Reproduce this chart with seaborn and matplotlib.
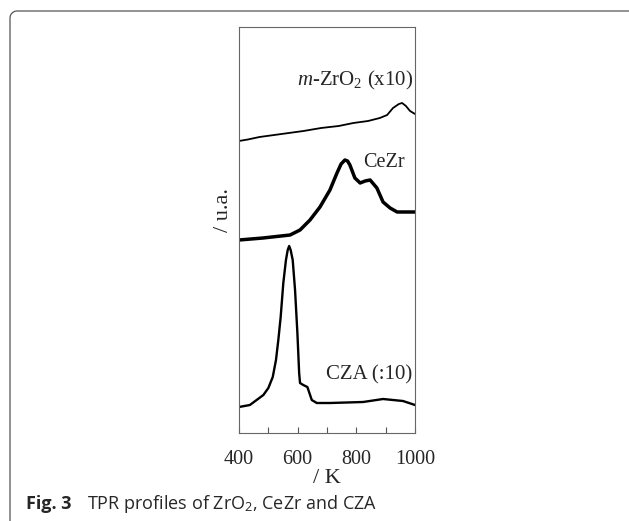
import matplotlib
matplotlib.use("Agg")
import matplotlib.pyplot as plt
from matplotlib.lines import Line2D
import numpy as np
import pandas as pd
import seaborn as sns

# temperature (K) and signal (arbitrary, already offset)
zro2_T = [400, 430, 470, 520, 570, 620, 680, 740, 790, 840, 880, 905, 925, 945, 956, 969, 983, 1000]
zro2_v = [292, 293.5, 296, 298, 300, 302, 305, 307, 310, 312, 315, 318, 325, 329, 330, 327, 322, 319]

cezr_T = [400, 482, 574, 608, 642, 676, 710, 734, 748, 761, 770, 778, 795, 813, 830, 847, 870, 891, 915, 939, 1000]
cezr_v = [193, 195, 198, 203, 213, 226, 243, 260, 269, 273, 272, 268, 255, 250, 252, 253, 245, 231, 225, 221, 221]

cza_T = [400, 437, 460, 483, 500, 515, 526, 534, 542, 551, 560, 566, 571, 576, 583, 591, 599, 605, 608, 619, 633, 640, 648,
         665, 710, 823, 891, 959, 1000]
cza_v = [26, 28, 33, 38, 45, 56, 73, 93, 116, 150, 173, 183, 187, 183, 173, 143, 100, 60, 50, 48, 46, 40, 33,
         30, 30, 31, 34, 32, 28]

xticks = [400, 500, 600, 700, 800, 900, 1000]
xticklabels = ["400", "", "600", "", "800", "", "1000"]

sns.set_style("ticks")
plt.rcParams["font.family"] = ["Liberation Serif", "DejaVu Serif"]
plt.rcParams["mathtext.fontset"] = "custom"
plt.rcParams["mathtext.rm"] = "Liberation Serif"
plt.rcParams["mathtext.it"] = "Liberation Serif:italic"
plt.rcParams["mathtext.sf"] = "Open Sans"

fig = plt.figure(figsize=(6.29, 5.21), dpi=100)
ax = fig.add_axes([0.380, 0.1689, 0.2798, 0.7793])

sns.lineplot(x=zro2_T, y=zro2_v, ax=ax, color="black", linewidth=1.3)
sns.lineplot(x=cezr_T, y=cezr_v, ax=ax, color="black", linewidth=2.5)
sns.lineplot(x=cza_T, y=cza_v, ax=ax, color="black", linewidth=1.7)

ax.set_xlim(400, 1000)
ax.set_ylim(0, 406)
ax.set_xticks(xticks)
ax.set_xticklabels(xticklabels)
ax.set_yticks([])
ax.tick_params(axis="x", direction="in", length=4, width=0.8, color="#555555", pad=12, labelsize=14.5)
for s in ax.spines.values():
    s.set_color("#666666")
    s.set_linewidth(0.8)

ax.set_xlabel("/ K", fontsize=16, labelpad=0)
ax.set_ylabel("/ u.a.", fontsize=16)
ax.yaxis.set_label_coords(-0.035, 0.55)

ax.text(993, 353, r"$\mathit{m}$-ZrO$_2$ (x10)", ha="right", va="center", fontsize=15)
ax.text(966, 270, "CeZr", ha="right", va="center", fontsize=14.5)
ax.text(990, 58, "CZA (:10)", ha="right", va="center", fontsize=15)

# caption
fig.text(26 / 629, 1 - 504 / 521, "Fig. 3", ha="left", va="center", fontsize=13,
         fontweight="bold", family=["Open Sans", "DejaVu Sans"])
fig.text(87 / 629, 1 - 504 / 521, r"TPR profiles of ZrO$_\mathsf{2}$, CeZr and CZA", ha="left", va="center",
         fontsize=13, family=["Open Sans", "DejaVu Sans"])

# rounded card border (top-left corner only visible)
r = 7
ang = np.linspace(np.pi, np.pi / 2, 12)
bx = [10] + list(10 + r + r * np.cos(ang)) + [640]
by = [530] + list(11 + r - r * np.sin(ang)) + [11]
bx = np.array(bx) / 100
by = (521 - np.array(by)) / 100
fig.add_artist(Line2D(bx, by, transform=fig.dpi_scale_trans, color="#555555", linewidth=0.9))

fig.savefig("out.png", dpi=100)
